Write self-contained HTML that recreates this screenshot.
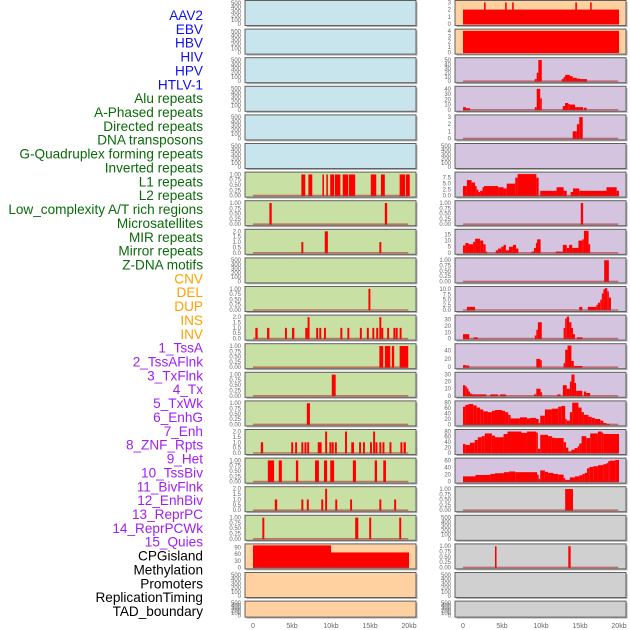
<!DOCTYPE html>
<html><head><meta charset="utf-8"><style>
html,body{margin:0;padding:0;background:#fff;width:630px;height:630px;overflow:hidden}
svg{display:block}
</style></head><body>
<svg id="chart" width="630" height="630" viewBox="0 0 630 630" xmlns="http://www.w3.org/2000/svg" font-family="Liberation Sans, Arial, sans-serif"></svg>
<script>
// ---------- labels ----------
const labelNames = ["AAV2","EBV","HBV","HIV","HPV","HTLV-1","Alu repeats","A-Phased repeats","Directed repeats","DNA transposons","G-Quadruplex forming repeats","Inverted repeats","L1 repeats","L2 repeats","Low_complexity A/T rich regions","Microsatellites","MIR repeats","Mirror repeats","Z-DNA motifs","CNV","DEL","DUP","INS","INV","1_TssA","2_TssAFlnk","3_TxFlnk","4_Tx","5_TxWk","6_EnhG","7_Enh","8_ZNF_Rpts","9_Het","10_TssBiv","11_BivFlnk","12_EnhBiv","13_ReprPC","14_ReprPCWk","15_Quies","CPGisland","Methylation","Promoters","ReplicationTiming","TAD_boundary"];
const labelGroups = [0,0,0,0,0,0,1,1,1,1,1,1,1,1,1,1,1,1,1,2,2,2,2,2,3,3,3,3,3,3,3,3,3,3,3,3,3,3,3,4,4,4,4,4];
const groupColors = ["#1010f0","#0a6a0a","#ffa000","#a020f0","#000000"];

// ---------- x axis ----------
const xTickKb = [0,5,10,15,20];
const xTickLabels = ["0","5kb","10kb","15kb","20kb"];

// ---------- tick sets ----------
const ticksCount = [0,100,200,300,400,500];
const ticksFrac = [0,0.25,0.5,0.75,1];
const ticksFracLbl = ["0.00","0.25","0.50","0.75","1.00"];
const ticksTwo = [0,0.5,1,1.5,2];
const ticksTwoLbl = ["0.0","0.5","1.0","1.5","2.0"];

// ---------- left column data: [startKb, endKb, value] ----------
const L6 = [[6.2,6.7,1],[7.1,7.6,1],[8.9,9.1,1],[9.4,9.6,1],[9.9,10.4,1],[10.5,11.2,1],[11.5,12.2,1],[12.3,13.1,1],[15.1,15.8,1],[16.4,16.9,1],[18.8,19.5,1],[19.6,20.1,1]];
const L7 = [[2.1,2.4,1],[16.9,17.2,1]];
const L8 = [[6.2,6.45,1],[9.2,9.6,2],[16.2,16.45,1]];
const L10 = [[14.8,15.05,1]];
const L11 = [[0.3,0.6,1],[1.8,2.1,1],[4.1,4.35,1],[5.0,5.3,1],[6.7,7.0,1],[7.0,7.25,2],[8.1,8.35,1],[8.5,8.75,1],[9.1,9.35,1],[11.2,11.45,1],[12.1,12.35,1],[13.7,13.95,1],[14.6,14.85,1],[15.3,15.55,1],[15.8,16.05,1],[16.2,16.45,2],[16.45,16.7,1],[17.2,17.45,1],[18.0,18.25,1],[18.3,18.55,1],[18.8,19.05,1]];
const L12 = [[16.2,16.7,1],[16.9,17.6,1],[17.8,18.1,1],[18.8,19.9,1]];
const L13 = [[10.1,10.6,1]];
const L14 = [[6.9,7.3,1]];
const L15 = [[1.0,1.3,1],[4.9,5.15,1],[5.4,5.65,1],[6.2,6.45,1],[6.6,6.85,1],[6.95,7.2,1],[8.3,8.8,1],[9.25,9.5,2],[9.8,10.05,1],[10.1,10.35,1],[10.5,10.75,1],[11.8,12.05,2],[12.6,12.95,1],[13.6,13.85,1],[14.1,14.35,1],[15.0,15.25,1],[15.4,15.65,2],[15.7,15.95,1],[16.2,16.45,1],[16.6,16.85,1],[17.5,17.75,1],[18.9,19.15,1],[19.3,19.6,1]];
const L16 = [[1.9,2.7,1],[3.3,3.7,1],[5.5,5.8,1],[7.95,8.45,1],[9.1,9.5,1],[9.9,10.4,1],[12.8,13.2,1],[15.6,15.9,1],[16.7,17.05,1]];
const L17 = [[2.8,3.1,1],[6.2,6.45,1],[6.9,7.15,1],[8.75,9.0,1],[9.25,9.5,2],[10.55,10.8,1],[12.45,12.7,1],[16.2,16.45,1],[18.1,18.35,1]];
const L18 = [[1.2,1.45,1],[13.1,13.5,1],[14.9,15.15,1],[18.75,19.0,1]];
const L19 = [[0,10,105],[10,20,68]];

// ---------- right column data ----------
const R0 = [[0,20,2],[2.7,2.9,3],[5.4,5.6,3],[6.3,6.5,3],[14.4,14.6,3],[16.3,16.5,3]];
const R1 = [[0,20,4]];
const R2 = [[9.2,9.45,5],[9.45,9.66,20],[9.66,10.1,50],[12.65,12.9,5],[12.9,13.1,10],[13.1,13.7,15],[13.7,14.06,12],[14.06,14.6,8],[14.6,15.0,6],[15.0,15.9,5]];
const R3 = [[0,0.38,5],[0.38,0.9,3],[9.2,9.45,5],[9.45,9.9,40],[9.9,10.1,22],[12.78,13.08,7],[13.08,13.5,13],[13.5,13.7,11],[13.7,14.36,10],[14.36,15.4,5],[15.5,15.85,4]];
const R4 = [[14.06,14.6,1],[14.6,14.9,2],[14.9,15.35,3]];
const R6 = [[0,0.5,4],[0.5,1.1,6.5],[1.1,1.55,5.5],[1.55,1.75,4],[1.75,1.97,2.5],[1.97,2.2,1.5],[2.2,2.5,2],[2.5,2.7,3.5],[2.7,4.5,4],[4.5,5.2,3.5],[5.2,5.6,3],[5.6,6.7,5],[6.7,7.0,7.5],[7.0,9.4,9],[9.4,9.7,7.5],[9.9,12.0,2],[12.0,12.9,3.5],[12.9,13.3,2],[13.8,14.1,1.5],[14.1,14.9,3],[14.9,18.4,2],[18.4,19.7,3.5],[19.7,20.0,2]];
const R7 = [[15.1,15.4,1]];
const R8 = [[0,0.3,6],[0.3,0.7,8],[0.7,1.3,7],[1.3,1.55,9],[1.55,2.2,11.5],[2.2,2.6,10],[2.6,2.9,7],[2.9,3.1,1],[4.2,4.5,2],[4.5,4.9,3.5],[4.9,5.2,5],[5.2,5.5,6.5],[5.5,5.9,2],[5.9,6.4,5],[6.4,6.8,6.5],[6.8,7.1,3.5],[8.8,9.1,1],[9.1,9.35,4],[9.35,9.5,8],[9.5,9.95,11],[11.9,12.8,1],[12.8,13.3,6.5],[13.3,13.6,4],[13.6,14.0,6.5],[14.0,14.8,4],[14.8,15.3,10],[15.3,15.5,11],[15.5,16.1,18],[16.1,16.3,7]];
const R9 = [[18.1,18.7,1]];
const R10 = [[0.5,1.55,1.5],[14.9,15.3,1.5],[16.0,17.1,1.5],[17.1,17.3,2.5],[17.3,17.6,3.5],[17.6,17.8,5],[17.8,18.0,8],[18.0,18.2,10],[18.2,18.5,10.5],[18.5,18.7,9],[18.7,18.97,6]];
const R11 = [[0,0.8,7],[1.35,1.9,2],[9.2,9.4,5],[9.4,9.6,14],[9.6,10.1,26],[12.9,13.1,17],[13.1,13.3,32],[13.3,13.6,35],[13.6,13.9,26],[13.9,14.1,17],[14.1,14.35,7],[14.6,15.3,2]];
const R12 = [[0,0.4,5],[0.4,0.8,4],[9.4,9.9,20],[9.9,10.1,17],[12.9,13.1,10],[13.1,13.4,42],[13.4,13.9,52],[13.9,14.2,15],[14.2,15.3,3]];
const R13 = [[0,0.3,15],[0.3,0.5,13],[0.5,0.7,10],[0.7,0.9,6],[0.9,1.2,3],[1.2,3.0,2],[3.5,4.5,2],[4.75,5.5,2],[9.1,9.4,2],[9.4,9.95,10],[9.95,10.1,5],[12.1,12.5,2],[12.8,13.3,15],[13.3,13.7,10],[13.7,13.9,20],[13.9,14.3,30],[14.3,14.5,18],[14.5,15.3,7],[15.5,15.8,6],[15.8,16.3,4]];
const R14 = [[0,0.3,65],[0.3,0.7,72],[0.7,1.3,75],[1.3,1.75,70],[1.75,2.2,62],[2.2,2.6,55],[2.6,3.2,48],[3.2,3.7,45],[3.7,4.1,50],[4.1,5.0,53],[5.0,5.4,50],[5.4,5.8,45],[5.8,6.1,35],[6.1,7.3,22],[7.3,8.2,26],[8.2,8.6,22],[8.6,9.35,24],[9.35,9.7,20],[9.7,9.9,5],[9.9,10.5,32],[10.5,11.4,55],[11.4,12.2,58],[12.2,12.6,65],[12.6,13.1,68],[13.1,13.3,20],[13.3,13.7,14],[13.7,14.0,45],[14.0,14.8,80],[14.8,15.2,62],[15.2,15.5,45],[15.5,16.1,35],[16.1,16.5,28],[16.5,16.9,24],[16.9,17.6,20],[17.6,18.0,14],[18.0,18.4,5],[18.4,18.8,2]];
const R15 = [[0,0.3,33],[0.3,0.9,30],[0.9,1.5,38],[1.5,1.9,48],[1.9,2.4,58],[2.4,2.8,62],[2.8,3.7,72],[3.7,4.1,64],[4.1,5.2,58],[5.2,5.7,70],[5.7,7.5,79],[7.5,8.2,74],[8.2,9.4,79],[9.4,9.6,75],[9.6,9.9,15],[9.9,10.9,67],[10.9,11.4,62],[11.4,11.8,56],[11.8,12.9,55],[12.9,13.2,40],[13.2,13.5,20],[13.5,13.9,6],[13.9,14.3,12],[14.3,14.7,18],[14.7,14.9,25],[14.9,15.2,35],[15.2,15.8,62],[15.8,16.3,55],[16.3,17.3,72],[17.3,17.8,79],[17.8,18.0,75],[18.0,20.0,70]];
const R16 = [[0,1.6,15],[1.6,3.5,19],[3.5,4.1,22],[4.1,5.25,24],[5.25,5.9,27],[5.9,6.7,29],[6.7,9.5,27],[9.5,9.7,20],[9.7,9.9,8],[9.9,10.5,32],[10.5,10.9,28],[10.9,11.6,25],[11.6,12.2,22],[12.2,12.9,20],[12.9,13.1,10],[13.1,13.7,5],[13.7,14.35,12],[14.35,14.9,15],[14.9,15.3,18],[15.3,15.6,22],[15.6,15.9,25],[15.9,16.2,38],[16.2,16.7,42],[16.7,17.3,44],[17.3,18.0,47],[18.0,18.4,50],[18.4,18.6,53],[18.6,18.8,58],[18.8,19.5,60],[19.5,20.0,62]];
const R17 = [[13.1,14.1,1]];
const R19 = [[4.1,4.3,1],[13.5,13.8,1]];

// ---------- panel configuration ----------
const BLUE="#c8e4ec", GREEN="#c8e0a4", PEACH="#ffd0a0", LAV="#d4c4e0", GRAY="#d0d0d0";
function cnt(bg){return {bg:bg,ticks:ticksCount,lbl:ticksCount.map(String),max:520,data:null};}
function frac(bg,d){return {bg:bg,ticks:ticksFrac,lbl:ticksFracLbl,max:1.04,data:d};}
function two(bg,d){return {bg:bg,ticks:ticksTwo,lbl:ticksTwoLbl,max:2.05,data:d};}
function num(bg,t,max,d,lbl){return {bg:bg,ticks:t,lbl:lbl||t.map(String),max:max,data:d};}
const leftPanels = [cnt(BLUE),cnt(BLUE),cnt(BLUE),cnt(BLUE),cnt(BLUE),cnt(BLUE),
  frac(GREEN,L6),frac(GREEN,L7),two(GREEN,L8),cnt(GREEN),frac(GREEN,L10),two(GREEN,L11),
  frac(GREEN,L12),frac(GREEN,L13),frac(GREEN,L14),two(GREEN,L15),frac(GREEN,L16),two(GREEN,L17),frac(GREEN,L18),
  num(PEACH,[0,30,60,90],100,L19),cnt(PEACH),cnt(PEACH)];
const rightPanels = [num(PEACH,[0,1,2,3],3.05,R0),num(PEACH,[0,1,2,3,4],4.05,R1),
  num(LAV,[0,10,20,30,40,50],52,R2),num(LAV,[0,10,20,30,40],42,R3),num(LAV,[0,1,2,3],3.1,R4),cnt(LAV),
  num(LAV,[0,2.5,5,7.5],9.2,R6,["0.0","2.5","5.0","7.5"]),frac(LAV,R7),num(LAV,[0,5,10,15],18,R8),frac(LAV,R9),
  num(LAV,[0,2.5,5,7.5,10],10.6,R10,["0.0","2.5","5.0","7.5","10.0"]),num(LAV,[0,10,20,30],35,R11),num(LAV,[0,20,40],53,R12),
  num(LAV,[0,10,20,30],31,R13),num(LAV,[0,20,40,60,80],81,R14),num(LAV,[0,20,40,60,80],81,R15),num(LAV,[0,20,40,60],63,R16),
  frac(GRAY,R17),cnt(GRAY),frac(GRAY,R19),cnt(GRAY),cnt(GRAY)];

// ---------- drawing ----------
const svg = document.getElementById('chart');
const NS = "http://www.w3.org/2000/svg";
function mk(tag, attrs, parent){const e=document.createElementNS(NS,tag);for(const k in attrs)e.setAttribute(k,attrs[k]);(parent||svg).appendChild(e);return e;}

// labels
const labelTop = 15, labelStep = 596/(labelNames.length-1);
labelNames.forEach((name,i)=>{
  const t = mk('text',{x:203,y:labelTop+i*labelStep+5,'text-anchor':'end','font-size':'13.6',fill:groupColors[labelGroups[i]]});
  
  
  t.textContent = name;
});

const cols = [{x0:245,x1:416,k0:253,panels:leftPanels,name:'left'},{x0:455,x1:626,k0:463,panels:rightPanels,name:'right'}];
const kbPx = 7.8;
function panelTop(i){return 0.5+i*28.6;}
function panelH(i){return i===21?16:25;}

cols.forEach(col=>{
  const xs = kb => col.k0 + kb*kbPx;
  col.panels.forEach((p,i)=>{
    const top = panelTop(i), h = panelH(i), bot = top+h;
    const g = mk('g',{});
    
    
    mk('rect',{x:col.x0+1.5,y:top+1.5,width:col.x1-col.x0,height:h,fill:'#b0b0b0'},g);
    mk('rect',{x:col.x0,y:top,width:col.x1-col.x0,height:h,fill:p.bg,stroke:'#606060','stroke-width':1},g);
    const ys = v => (bot-1.5) - Math.min(v,p.max)/p.max*(h-3);
    // y ticks
    p.ticks.forEach((tv,j)=>{
      const tt = mk('text',{x:col.x0-4,y:ys(tv)+2,'text-anchor':'end','font-size':'6',fill:'#666'},g);
      
      
      tt.textContent = p.lbl[j];
    });
    if(p.data){
      p.data.forEach(d=>{
        const x1 = xs(d[0]), x2 = xs(d[1]);
        const r = mk('rect',{x:x1,y:ys(d[2]),width:Math.max(x2-x1,1.5),height:ys(0)-ys(d[2])+0.5,fill:'#ff0000'},g);
        
        
      });
      if(!(col.name==='right' && i<2)){
        const bl = mk('line',{x1:xs(0),x2:xs(19.9),y1:ys(0),y2:ys(0),stroke:'#b03030','stroke-width':1.6,'stroke-opacity':0.6},g);
        
        
      }
    }
  });
  xTickKb.forEach((k,j)=>{
    const t = mk('text',{x:xs(k),y:628,'text-anchor':'middle','font-size':'7',fill:'#666'});
    
    
    t.textContent = xTickLabels[j];
  });
});
</script>
</body></html>
